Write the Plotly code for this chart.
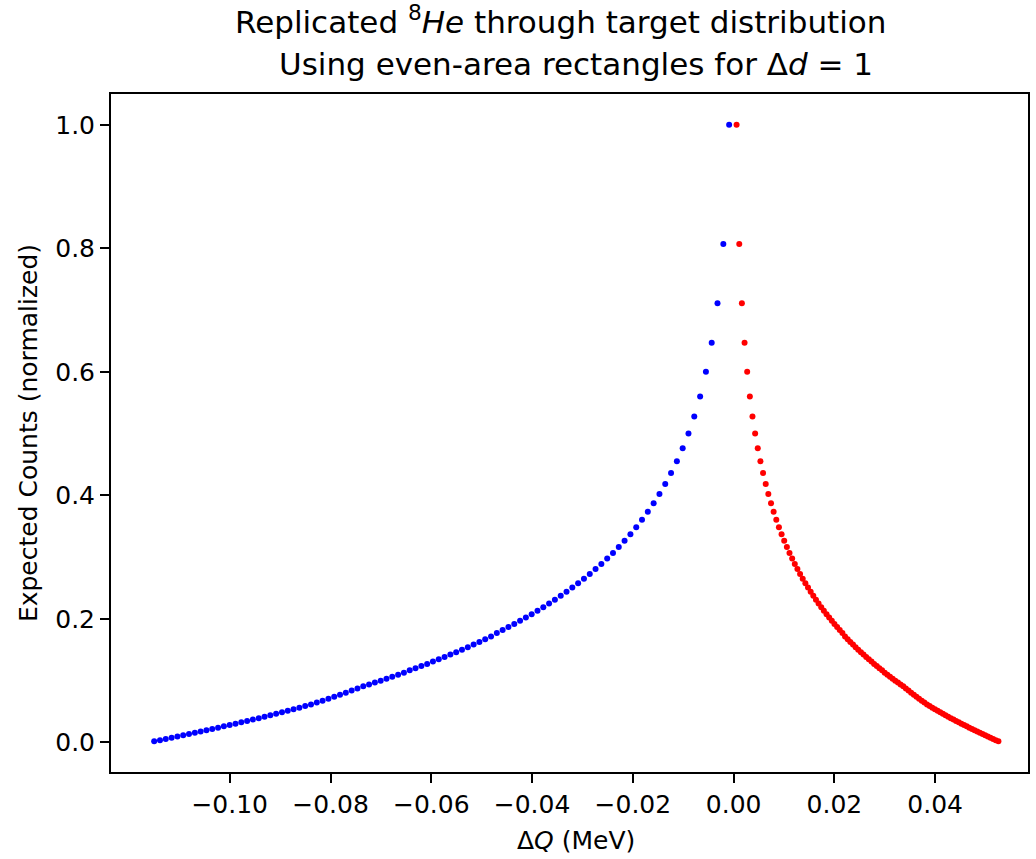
import plotly.graph_objects as go

# Blue series (left of peak), left to right
blue_x = [-0.11499, -0.11384, -0.11269, -0.11153, -0.11038, -0.10923, -0.10808, -0.10692, -0.10577, -0.10462,
          -0.10347, -0.10231, -0.10116, -0.10001, -0.09885, -0.09770, -0.09655, -0.09540, -0.09424, -0.09309,
          -0.09194, -0.09079, -0.08963, -0.08848, -0.08733, -0.08618, -0.08502, -0.08387, -0.08272, -0.08157,
          -0.08041, -0.07926, -0.07811, -0.07696, -0.07580, -0.07465, -0.07350, -0.07235, -0.07119, -0.07004,
          -0.06889, -0.06774, -0.06658, -0.06543, -0.06428, -0.06313, -0.06197, -0.06082, -0.05967, -0.05852,
          -0.05736, -0.05621, -0.05506, -0.05391, -0.05275, -0.05160, -0.05045, -0.04930, -0.04814, -0.04699,
          -0.04584, -0.04469, -0.04353, -0.04238, -0.04123, -0.04008, -0.03892, -0.03777, -0.03662, -0.03547,
          -0.03431, -0.03316, -0.03201, -0.03086, -0.02970, -0.02855, -0.02740, -0.02625, -0.02509, -0.02394,
          -0.02279, -0.02164, -0.02048, -0.01933, -0.01818, -0.01703, -0.01587, -0.01472, -0.01357, -0.01242,
          -0.01126, -0.01011, -0.00896, -0.00781, -0.00665, -0.00550, -0.00435, -0.00320, -0.00204, -0.00089]
blue_y = [0.0017, 0.0036, 0.0055, 0.0075, 0.0094, 0.0114, 0.0134, 0.0154, 0.0175, 0.0195,
          0.0216, 0.0237, 0.0259, 0.0280, 0.0302, 0.0324, 0.0347, 0.0369, 0.0392, 0.0416,
          0.0439, 0.0463, 0.0487, 0.0512, 0.0536, 0.0561, 0.0587, 0.0613, 0.0644, 0.0675,
          0.0707, 0.0740, 0.0772, 0.0805, 0.0839, 0.0873, 0.0907, 0.0937, 0.0968, 0.0999,
          0.1030, 0.1062, 0.1094, 0.1128, 0.1166, 0.1201, 0.1236, 0.1271, 0.1308, 0.1345,
          0.1382, 0.1421, 0.1460, 0.1501, 0.1541, 0.1584, 0.1627, 0.1671, 0.1716, 0.1772,
          0.1819, 0.1868, 0.1918, 0.1969, 0.2022, 0.2076, 0.2132, 0.2189, 0.2248, 0.2310,
          0.2373, 0.2439, 0.2507, 0.2577, 0.2651, 0.2727, 0.2807, 0.2890, 0.2977, 0.3068,
          0.3164, 0.3265, 0.3372, 0.3485, 0.3606, 0.3735, 0.3874, 0.4023, 0.4186, 0.4364,
          0.4551, 0.4762, 0.5001, 0.5279, 0.5600, 0.6000, 0.6470, 0.7110, 0.8070, 1.0000]

# Red series (right of peak), left to right
red_x = [0.00059, 0.00112, 0.00164, 0.00217, 0.00269, 0.00322, 0.00374, 0.00427, 0.00479, 0.00532,
         0.00584, 0.00637, 0.00689, 0.00742, 0.00794, 0.00847, 0.00899, 0.00952, 0.01004, 0.01057,
         0.01109, 0.01162, 0.01214, 0.01266, 0.01319, 0.01371, 0.01424, 0.01476, 0.01529, 0.01581,
         0.01634, 0.01686, 0.01739, 0.01791, 0.01844, 0.01896, 0.01949, 0.02001, 0.02054, 0.02106,
         0.02159, 0.02211, 0.02264, 0.02316, 0.02369, 0.02421, 0.02473, 0.02526, 0.02578, 0.02631,
         0.02683, 0.02736, 0.02788, 0.02841, 0.02893, 0.02946, 0.02998, 0.03051, 0.03103, 0.03156,
         0.03208, 0.03261, 0.03313, 0.03366, 0.03418, 0.03471, 0.03523, 0.03576, 0.03628, 0.03680,
         0.03733, 0.03785, 0.03838, 0.03890, 0.03943, 0.03995, 0.04048, 0.04100, 0.04153, 0.04205,
         0.04258, 0.04310, 0.04363, 0.04415, 0.04468, 0.04520, 0.04573, 0.04625, 0.04677, 0.04730,
         0.04782, 0.04835, 0.04887, 0.04940, 0.04992, 0.05045, 0.05097, 0.05150, 0.05202, 0.05255]
red_y = [1.0000, 0.8070, 0.7110, 0.6470, 0.6000, 0.5600, 0.5279, 0.5001, 0.4762, 0.4551,
         0.4364, 0.4186, 0.4023, 0.3874, 0.3735, 0.3606, 0.3485, 0.3372, 0.3265, 0.3164,
         0.3068, 0.2977, 0.2890, 0.2807, 0.2727, 0.2651, 0.2577, 0.2507, 0.2439, 0.2373,
         0.2310, 0.2248, 0.2189, 0.2132, 0.2076, 0.2022, 0.1969, 0.1918, 0.1868, 0.1819,
         0.1772, 0.1716, 0.1671, 0.1627, 0.1584, 0.1541, 0.1501, 0.1460, 0.1421, 0.1382,
         0.1345, 0.1308, 0.1271, 0.1236, 0.1201, 0.1166, 0.1128, 0.1094, 0.1062, 0.1030,
         0.0999, 0.0968, 0.0937, 0.0907, 0.0873, 0.0839, 0.0805, 0.0772, 0.0740, 0.0707,
         0.0675, 0.0644, 0.0613, 0.0587, 0.0561, 0.0536, 0.0512, 0.0487, 0.0463, 0.0439,
         0.0416, 0.0392, 0.0369, 0.0347, 0.0324, 0.0302, 0.0280, 0.0259, 0.0237, 0.0216,
         0.0195, 0.0175, 0.0154, 0.0134, 0.0114, 0.0094, 0.0075, 0.0055, 0.0036, 0.0017]

x_tick_vals = [-0.10, -0.08, -0.06, -0.04, -0.02, 0.00, 0.02, 0.04]
x_tick_text = ["\u22120.10", "\u22120.08", "\u22120.06", "\u22120.04", "\u22120.02", "0.00", "0.02", "0.04"]
y_tick_vals = [0.0, 0.2, 0.4, 0.6, 0.8, 1.0]
y_tick_text = ["0.0", "0.2", "0.4", "0.6", "0.8", "1.0"]

FONT = "DejaVu Sans"

fig = go.Figure()
fig.add_trace(go.Scatter(x=blue_x, y=blue_y, mode="markers",
                         marker=dict(color="#0000ff", size=6, line=dict(width=0))))
fig.add_trace(go.Scatter(x=red_x, y=red_y, mode="markers",
                         marker=dict(color="#ff0000", size=6, line=dict(width=0))))

axis_common = dict(showline=True, linecolor="black", linewidth=2, mirror=True,
                   ticks="outside", ticklen=9, tickwidth=2, tickcolor="black",
                   showgrid=False, zeroline=False,
                   tickfont=dict(family=FONT, size=25, color="black"))

fig.update_xaxes(range=[-0.12356, 0.05842], tickvals=x_tick_vals, ticktext=x_tick_text,
                 **axis_common)
fig.update_yaxes(range=[-0.048, 1.050], tickvals=y_tick_vals, ticktext=y_tick_text,
                 title=dict(text="Expected Counts (normalized)", font=dict(family=FONT, size=25, color="black"),
                            standoff=10),
                 **axis_common)

fig.update_layout(
    width=1036, height=859,
    margin=dict(l=111, r=6, t=94, b=87),
    plot_bgcolor="white", paper_bgcolor="white",
    showlegend=False,
    font=dict(family=FONT, size=25, color="black"),
    annotations=[
        dict(text="Replicated <sup>8</sup><i>He</i> through target distribution",
             xref="paper", yref="paper", x=0.4907, y=1.109, xanchor="center", yanchor="middle",
             showarrow=False, font=dict(family=FONT, size=31, color="black")),
        dict(text="Using even-area rectangles for \u0394<i>d</i> = 1",
             xref="paper", yref="paper", x=0.5071, y=1.0442, xanchor="center", yanchor="middle",
             showarrow=False, font=dict(family=FONT, size=31, color="black")),
        dict(text="\u0394<i>Q</i> (MeV)",
             xref="paper", yref="paper", x=0.5071, y=-0.1003, xanchor="center", yanchor="middle",
             showarrow=False, font=dict(family=FONT, size=25, color="black")),
    ],
)

fig.write_html("out.html")
